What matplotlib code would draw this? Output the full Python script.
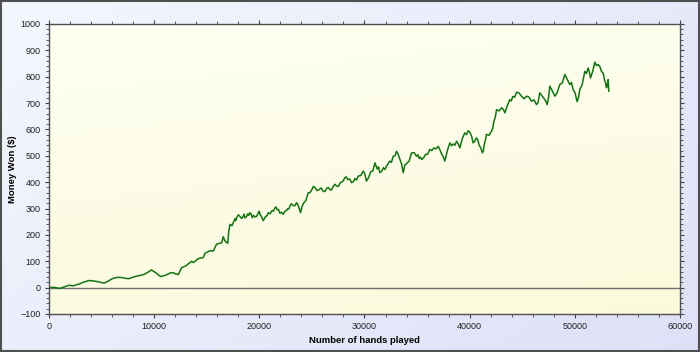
import numpy as np
import matplotlib
matplotlib.use("Agg")
import matplotlib.pyplot as plt
from matplotlib.patches import Rectangle
from matplotlib.ticker import MultipleLocator

plt.rcParams['font.family'] = ['Liberation Sans', 'DejaVu Sans']

# hands played / money won (main trace)
hands = [0, 500, 1000, 1400, 1900, 2300, 2540, 2900, 3170, 3500, 3800, 4280, 4700,
         5230, 5600, 6020, 6500, 6970, 7300, 7600, 8000, 8400, 8700, 9030, 9400,
         9730, 10140, 10400, 10610, 11090, 11500, 11820, 12000, 12290, 12450, 12610,
         13000, 13560, 13720, 14200, 14670, 14830, 15300, 15620, 15940, 16420, 16570,
         16730, 16990, 17100, 17210, 17400, 17680, 17840, 18160, 18470, 18630, 18900,
         19110, 19330, 19580, 19900, 20060, 20370, 20600, 20850, 21200, 21480, 21700,
         21960, 22270, 22430, 22700, 22910, 23200, 23540, 23920, 24200, 24650, 25000,
         25290, 25700, 26070, 26400, 26710, 27000, 27350, 27700, 28140, 28400, 28770,
         29100, 29400, 29880, 30190, 30600, 30990, 31200, 31460, 31800, 32100, 32400,
         32730, 33050, 33370, 33680, 34000, 34480, 34950, 35200, 35430, 35800, 36220,
         36600, 37010, 37300, 37640, 38120, 38450, 38750, 39070, 39540, 39860, 40020,
         40330, 40650, 40900, 41220, 41400, 41600, 42080, 42300, 42560, 43030, 43350,
         43820, 44100, 44460, 44930, 45410, 45880, 46360, 46670, 47150, 47370, 47620,
         48100, 48570, 49050, 49520, 49840, 50220, 50480, 50950, 51270, 51490, 51900,
         52220, 52540, 52850, 53010, 53170, 53230]
money = [0, 1, -3, 2, 9, 7, 10, 14, 19, 23, 27, 25, 22,
         17, 24, 34, 39, 38, 35, 34, 40, 44, 47, 50, 58,
         67, 57, 48, 42, 47, 55, 57, 52, 50, 62, 76,
         82, 100, 95, 110, 114, 130, 140, 139, 165, 170, 193,
         177, 168, 215, 240, 235, 261, 265, 270, 271, 265, 280,
         284, 265, 268, 284, 278, 254, 270, 284, 292, 302, 295,
         282, 278, 290, 300, 309, 312, 322, 284, 320, 360, 372,
         379, 372, 366, 376, 372, 382, 385, 398, 417, 410, 398,
         414, 423, 442, 404, 440, 473, 450, 436, 455, 461, 480,
         498, 517, 486, 436, 470, 511, 498, 490, 486, 505, 524,
         530, 536, 510, 480, 549, 545, 555, 530, 587, 595, 589,
         549, 568, 540, 511, 545, 581, 593, 630, 675, 682, 663,
         713, 725, 741, 726, 726, 707, 694, 739, 713, 694, 764,
         726, 770, 808, 770, 751, 705, 751, 820, 833, 795, 855,
         846, 820, 783, 758, 789, 745]

# short swings between the main points (the graph is very jagged)
hands_swing = [17760, 18000, 18320, 18550, 18760, 19000, 19220, 19450, 19740, 19980,
               20200, 20480, 20720, 21020, 21340, 21590, 21830, 22100, 22350, 22560,
               22800, 23050, 23370, 23700, 24050, 24420, 24820, 25150, 25500, 25880,
               26230, 26550, 26850, 27180, 27520, 27920, 28270, 28600, 28940, 29250,
               29640, 30040, 30400, 30800, 31100, 31330, 31630, 31950, 32250, 32560,
               32900, 33200, 33520, 33840, 34240, 34720, 35080, 35320, 35620, 36000,
               36400, 36800, 37150, 37470, 37880, 38280, 38600, 38900, 39300, 39700,
               40180, 40490, 40780, 41060, 41310, 41500, 41840, 42200, 42430, 42800,
               43200, 43580, 43960, 44280, 44700, 45170, 45650, 46120, 46500, 46900,
               47260, 47500, 47860, 48330, 48800, 49280, 49680, 50030, 50350, 50700,
               51100, 51380, 51700, 52060, 52380, 52700, 52930, 53090]
money_swing = [254, 276, 262, 278, 268, 274, 279, 274, 270, 290,
               270, 262, 272, 280, 290, 306, 296, 286, 284, 291,
               298, 318, 310, 312, 306, 330, 360, 384, 368, 378,
               364, 380, 370, 392, 384, 402, 420, 412, 402, 408,
               425, 430, 418, 442, 462, 458, 441, 448, 470, 475,
               500, 506, 470, 465, 480, 512, 504, 495, 492, 506,
               520, 526, 525, 498, 520, 538, 540, 546, 565, 580,
               575, 556, 560, 530, 520, 560, 578, 605, 645, 670,
               676, 690, 708, 722, 738, 716, 722, 712, 702, 726,
               705, 720, 746, 740, 776, 790, 778, 738, 722, 770,
               812, 818, 820, 842, 838, 812, 776, 768]

x_all = np.array(hands + hands_swing)
y_all = np.array(money + money_swing)
order = np.argsort(x_all, kind="stable")

fig = plt.figure(figsize=(7, 3.52), dpi=100)

# outer lavender gradient
bg = fig.add_axes([0, 0, 1, 1], zorder=-10)
gx, gy = np.meshgrid(np.linspace(0, 1, 200), np.linspace(0, 1, 100))
t = (gx * 0.6 + gy * 0.4)
c0 = np.array([0.96, 0.97, 0.995])
c1 = np.array([0.87, 0.88, 0.97])
bg.imshow(c0 + (c1 - c0) * t[..., None], aspect="auto", extent=[0, 1, 0, 1], origin="upper")
bg.set_xlim(0, 1)
bg.set_ylim(0, 1)
bg.axis("off")
fig.patches.append(Rectangle((0.001, 0.002), 0.998, 0.995, transform=fig.transFigure,
                             fill=False, edgecolor="#505050", linewidth=1.5))

ax = fig.add_axes([0.07, 0.108, 0.9014, 0.824])
# ivory gradient inside the plot area
a0 = np.array([1.0, 1.0, 0.95])
a1 = np.array([0.98, 0.98, 0.86])
ta = gy * 0.8 + gx * 0.2
ax.imshow(a0 + (a1 - a0) * ta[..., None], aspect="auto", extent=[0, 60000, -100, 1000],
          origin="upper", zorder=0)

ax.axhline(0, color="#707070", linewidth=1.0, zorder=1)
ax.plot(x_all[order], y_all[order], color="#137313", linewidth=1.1, zorder=2)

ax.set_xlim(0, 60000)
ax.set_ylim(-100, 1000)
ax.xaxis.set_major_locator(MultipleLocator(10000))
ax.xaxis.set_minor_locator(MultipleLocator(2000))
ax.yaxis.set_major_locator(MultipleLocator(100))
ax.yaxis.set_minor_locator(MultipleLocator(20))
ax.tick_params(which="both", direction="out", top=True, right=True, colors="#404040",
               labelsize=6.5, labelcolor="#222222", pad=3)
ax.tick_params(which="major", length=3, width=0.8)
ax.tick_params(which="minor", length=2, width=0.6)
for s in ax.spines.values():
    s.set_color("#505050")
    s.set_linewidth(1.0)

ax.set_xlabel("Number of hands played", fontsize=6.8, fontweight="bold")
ax.set_ylabel("Money Won ($)", fontsize=6.8, fontweight="bold")
ax.xaxis.set_label_coords(0.5, -0.075)
ax.yaxis.set_label_coords(-0.05, 0.5)

fig.savefig("out.png", dpi=100)
